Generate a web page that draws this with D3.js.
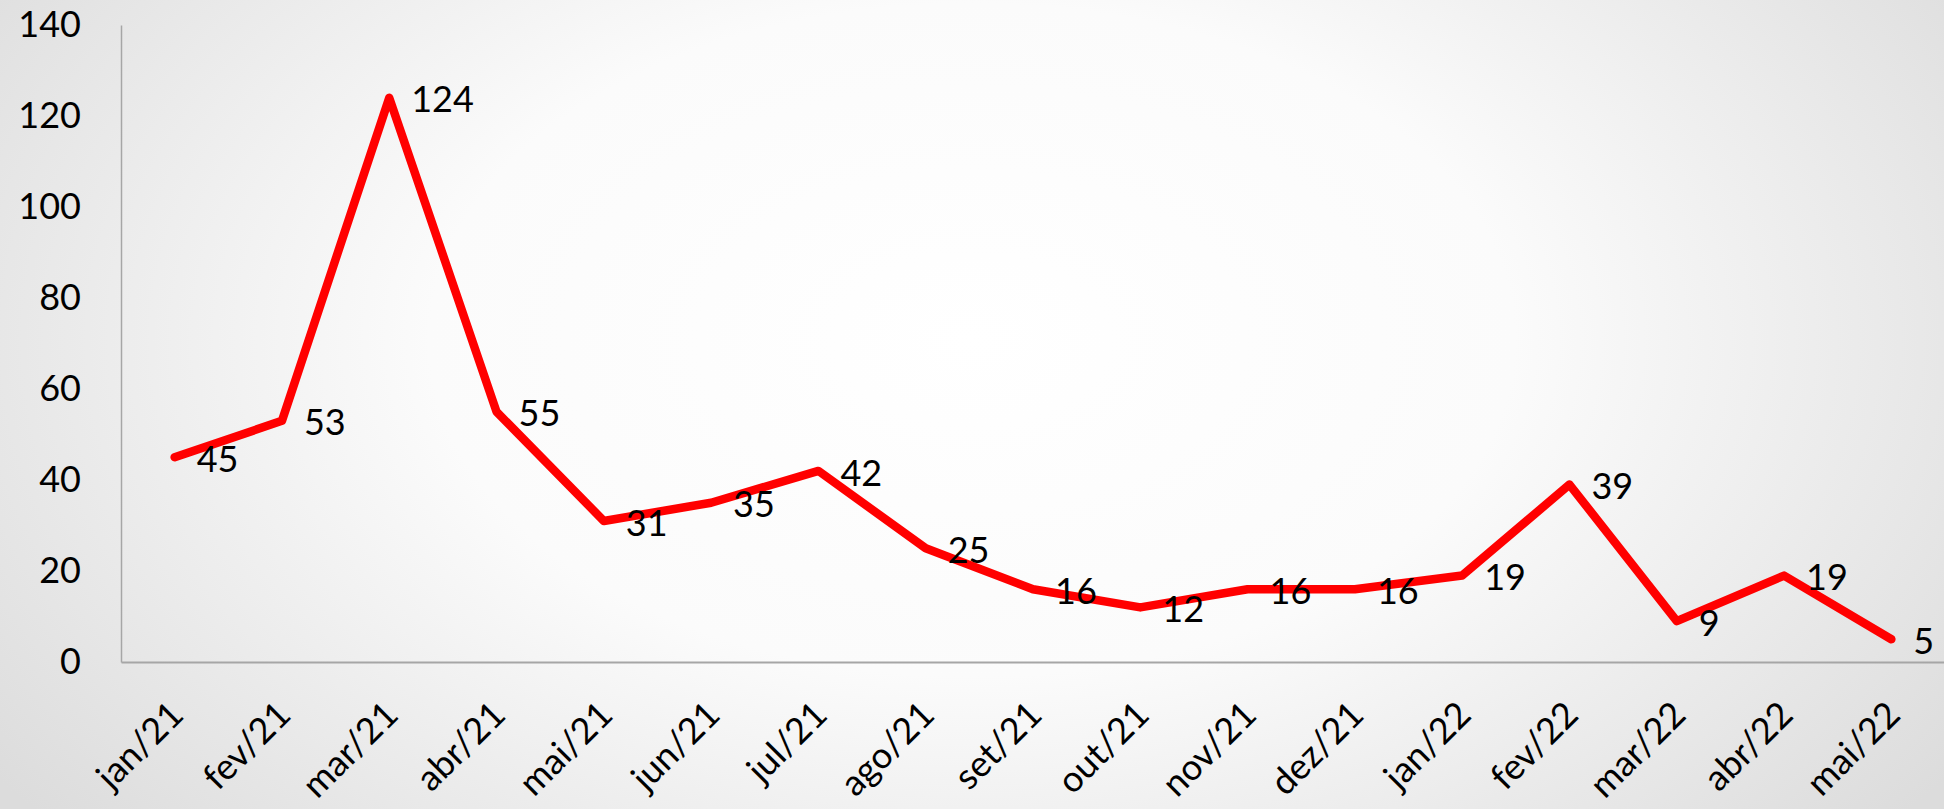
<!DOCTYPE html>
<html><head><meta charset="utf-8">
<script src="https://cdn.jsdelivr.net/npm/d3@7"></script>
<style>html,body{margin:0;padding:0;overflow:hidden;background:#fff}</style>
</head><body>
<svg id="c" width="1944" height="809"></svg>
<script>
const categories = ["jan/21","fev/21","mar/21","abr/21","mai/21","jun/21","jul/21","ago/21","set/21","out/21","nov/21","dez/21","jan/22","fev/22","mar/22","abr/22","mai/22"];
const values = [45,53,124,55,31,35,42,25,16,12,16,16,19,39,9,19,5];
const yTicks = [0,20,40,60,80,100,120,140];

const W = 1944, H = 809;
const svg = d3.select("#c");
const defs = svg.append("defs");
const g = defs.append("radialGradient").attr("id","bg")
  .attr("gradientUnits","userSpaceOnUse")
  .attr("cx",W*0.5).attr("cy",H*0.42).attr("r",W*0.62)
  .attr("gradientTransform",`translate(${W*0.5},${H*0.42}) scale(1,0.62) translate(${-W*0.5},${-H*0.42})`);
g.append("stop").attr("offset","0").attr("stop-color","#ffffff");
g.append("stop").attr("offset","0.45").attr("stop-color","#fbfbfb");
g.append("stop").attr("offset","1").attr("stop-color","#dcdcdc");
svg.append("rect").attr("width",W).attr("height",H).attr("fill","url(#bg)");

const font = "Lato, 'Open Sans', sans-serif";
const x = d3.scaleBand().domain(categories).range([121,1945]).padding(0);
const y = d3.scaleLinear().domain([0,140]).range([662,25]);

// axes
const yAxis = d3.axisLeft(y).tickValues(yTicks).tickSize(0).tickPadding(40);
const ya = svg.append("g").attr("transform","translate(121,0)").call(yAxis);
ya.select(".domain").attr("stroke","#a6a6a6").attr("stroke-width",1.5);
ya.selectAll("text").attr("font-family",font).attr("font-size",36).attr("fill","#000");

const xAxis = d3.axisBottom(x).tickSize(0).tickFormat(d=>"");
const xa = svg.append("g").attr("transform","translate(0,662)").call(xAxis);
xa.select(".domain").attr("stroke","#a6a6a6").attr("stroke-width",2);

// rotated category labels
svg.append("g").selectAll("text").data(categories).join("text")
  .attr("transform",d=>`translate(${x(d)+x.bandwidth()/2+2},708) rotate(-45)`)
  .attr("text-anchor","end").attr("dy","0.35em")
  .attr("font-family",font).attr("font-size",36).attr("fill","#000")
  .text(d=>d);

// line
const pts = categories.map((c,i)=>[x(c)+x.bandwidth()/2, y(values[i])]);
svg.append("path").datum(pts)
  .attr("d", d3.line())
  .attr("fill","none").attr("stroke","#ff0000").attr("stroke-width",8.5)
  .attr("stroke-linejoin","round").attr("stroke-linecap","round");

// data labels
svg.append("g").selectAll("text").data(values).join("text")
  .attr("x",(d,i)=>x(categories[i])+x.bandwidth()/2+22)
  .attr("y",d=>y(d)+2).attr("dy","0.35em")
  .attr("font-family",font).attr("font-size",36).attr("fill","#000")
  .text(d=>d);
</script>
</body></html>
